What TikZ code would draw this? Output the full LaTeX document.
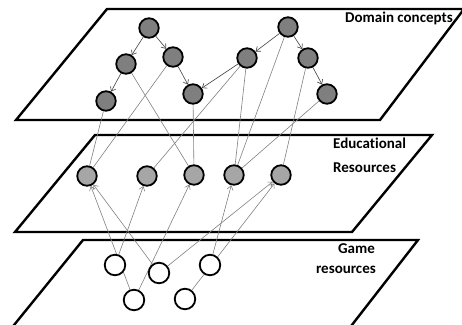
\documentclass[tikz,border=0pt]{standalone}
\usepackage{fontspec}
\setmainfont{Carlito}[Ligatures={NoCommon}]
\usetikzlibrary{arrows.meta}
\pgfdeclarelayer{back}
\pgfsetlayers{back,main}
\definecolor{conceptfill}{HTML}{7F7F7F}
\definecolor{resfill}{HTML}{A6A6A6}
\definecolor{linkgray}{HTML}{808080}
\definecolor{arrowgray}{HTML}{404040}
\begin{document}
\begin{tikzpicture}[x=1pt,y=-1pt,
  plane/.style={line width=2.4pt, line join=miter},
  dot/.style={circle, draw=black, line width=1.8pt, minimum size=19.5pt, inner sep=0pt},
  concept/.style={dot, fill=conceptfill},
  eres/.style={dot, fill=resfill},
  gres/.style={dot, fill=white, minimum width=19pt, minimum height=20.5pt},
  hier/.style={draw=arrowgray, line width=0.6pt, -{Straight Barb[length=4pt,width=6pt]}},
  link/.style={draw=linkgray, line width=0.6pt},
  use/.style={draw=linkgray, line width=0.6pt, -{Straight Barb[length=4pt,width=6pt]}},
  lbl/.style={font=\fontsize{15}{18}\selectfont\bfseries, inner sep=0pt}]
\clip (0,0) rectangle (462,324);
\useasboundingbox (0,0) rectangle (462,324);

% the three layers
\begin{pgfonlayer}{back}
\draw[plane] (107,9) -- (464,9) -- (380,120) -- (16,120) -- cycle;
\draw[plane] (95,135) -- (432,135) -- (352,232) -- (15,232) -- cycle;
\draw[plane] (83,240) -- (418,240) -- (348,330) -- (10,330) -- cycle;
\end{pgfonlayer}

% layer titles
\node[lbl, anchor=base west] (tdom) at (345,22.5) {Domain concepts};
\node[lbl, anchor=base west] (tedu) at (333,148) {Educational};
\node[lbl, anchor=base west] (tres) at (333,172) {Resources};
\node[lbl, anchor=base east] (tgame) at (375,253) {Game};
\node[lbl, anchor=base east] (tgres) at (376,273) {resources};

% domain concepts
\node[concept] (A) at (149,28) {};
\node[concept] (B) at (126,64) {};
\node[concept] (C) at (173,57) {};
\node[concept] (D) at (106,101) {};
\node[concept] (E) at (193,94) {};
\node[concept] (F) at (288,27) {};
\node[concept] (G) at (247,58) {};
\node[concept] (H) at (308,58) {};
\node[concept] (I) at (327,94) {};

% educational resources
\node[eres] (M1) at (87,176) {};
\node[eres] (M2) at (147,176) {};
\node[eres] (M3) at (194,175) {};
\node[eres] (M4) at (234,175) {};
\node[eres] (M5) at (281,175) {};

% game resources
\node[gres] (b1) at (115,265) {};
\node[gres] (b2) at (159,273) {};
\node[gres] (b3) at (210,265) {};
\node[gres] (b4) at (134,300) {};
\node[gres] (b5) at (185,299) {};

\begin{pgfonlayer}{back}
% concept hierarchy
\draw[hier] (A) -- (B);
\draw[hier] (A) -- (C);
\draw[hier] (B) -- (D);
\draw[hier] (C) -- (E);
\draw[hier] (F) -- (G);
\draw[hier] (F) -- (H);
\draw[hier] (G) -- (E);
\draw[hier] (H) -- (I);
% concepts covered by educational resources
\draw[link] (D) -- (M1);
\draw[link] (C) -- (M1);
\draw[link] (B) -- (M3);
\draw[link] (E) -- (M3);
\draw[link] (G) -- (M2);
\draw[link] (G) -- (M4);
\draw[link] (F) -- (M4);
\draw[link] (H) -- (M5);
\draw[link] (I) -- (M4);
% game resources feeding educational resources
\draw[use] (b4) -- (M1);
\draw[use] (b2) -- (M1);
\draw[use] (b1) -- (M2);
\draw[use] (b4) -- (M3);
\draw[use] (b3) -- (M4);
\draw[use] (b2) -- (M5);
\draw[use] (b5) -- (M5);
\end{pgfonlayer}
\end{tikzpicture}
\end{document}
